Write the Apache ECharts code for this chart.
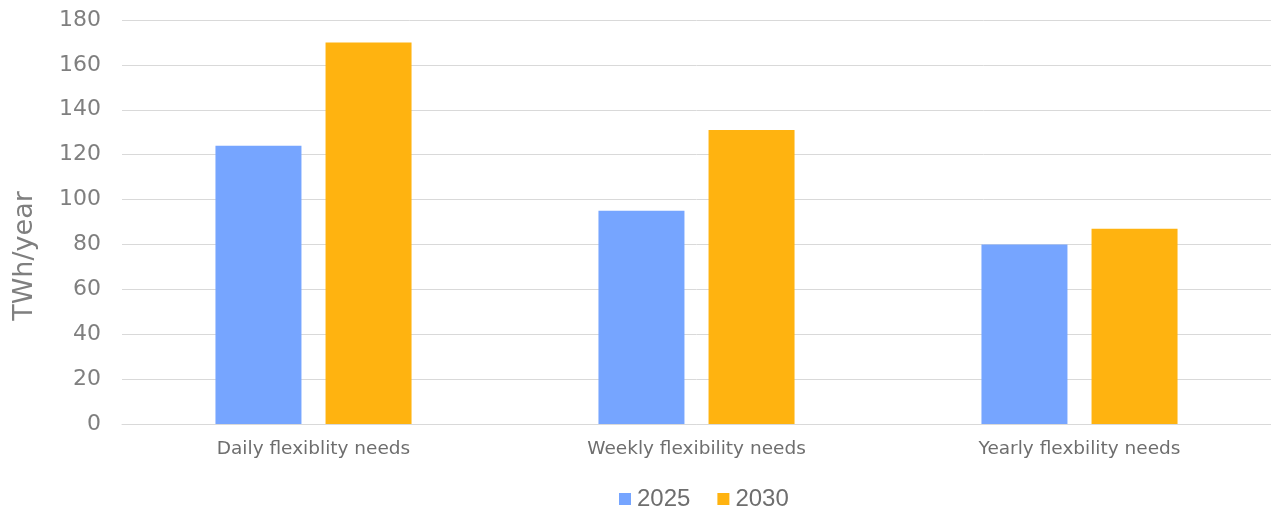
<!DOCTYPE html>
<html><head><meta charset="utf-8">
<script src="https://cdn.jsdelivr.net/npm/echarts@6/dist/echarts.min.js"></script>
<style>html,body{margin:0;padding:0;background:#fff}#c{width:1271px;height:509px}</style>
</head><body><div id="c"></div>
<script>
const categories = ["Daily flexiblity needs", "Weekly flexibility needs", "Yearly flexbility needs"];
const values2025 = [124, 95, 80];
const values2030 = [170, 131, 87];
const yTicks = {min: 0, max: 180, interval: 20};

const FONT = 'DejaVu Sans, Liberation Sans, Arial, sans-serif';
const chart = echarts.init(document.getElementById('c'));
chart.setOption({
  animation: false,
  textStyle: {fontFamily: FONT},
  grid: {left: 122, right: 0, top: 20, bottom: 85},
  legend: {
    top: 482, left: 614, itemWidth: 12, itemHeight: 12, itemGap: 27,
    icon: 'rect',
    textStyle: {fontSize: 24, color: '#6e6e6e', fontFamily: 'Liberation Sans, Arial, sans-serif', padding: [0, 0, 0, 1]},
    data: ['2025', '2030']
  },
  xAxis: {
    type: 'category', data: categories,
    axisLine: {lineStyle: {color: '#d9d9d9'}},
    axisTick: {show: false},
    axisLabel: {fontSize: 18.5, color: '#6e6e6e', margin: 16, fontFamily: FONT}
  },
  yAxis: {
    type: 'value', min: yTicks.min, max: yTicks.max, interval: yTicks.interval,
    name: 'TWh/year', nameLocation: 'middle', nameGap: 84,
    nameTextStyle: {fontSize: 27, color: '#7f7f7f', fontFamily: FONT, padding: [0, 68, 0, 0]},
    axisLabel: {fontSize: 22, color: '#7f7f7f', margin: 21, fontFamily: FONT},
    splitLine: {lineStyle: {color: '#d9d9d9'}},
    axisLine: {show: false}, axisTick: {show: false}
  },
  series: [
    {name: '2025', type: 'bar', data: values2025, barWidth: 86, barGap: '28%',
     itemStyle: {color: '#76A5FF'}},
    {name: '2030', type: 'bar', data: values2030, barWidth: 86,
     itemStyle: {color: '#FFB310'}}
  ]
});
</script></body></html>
